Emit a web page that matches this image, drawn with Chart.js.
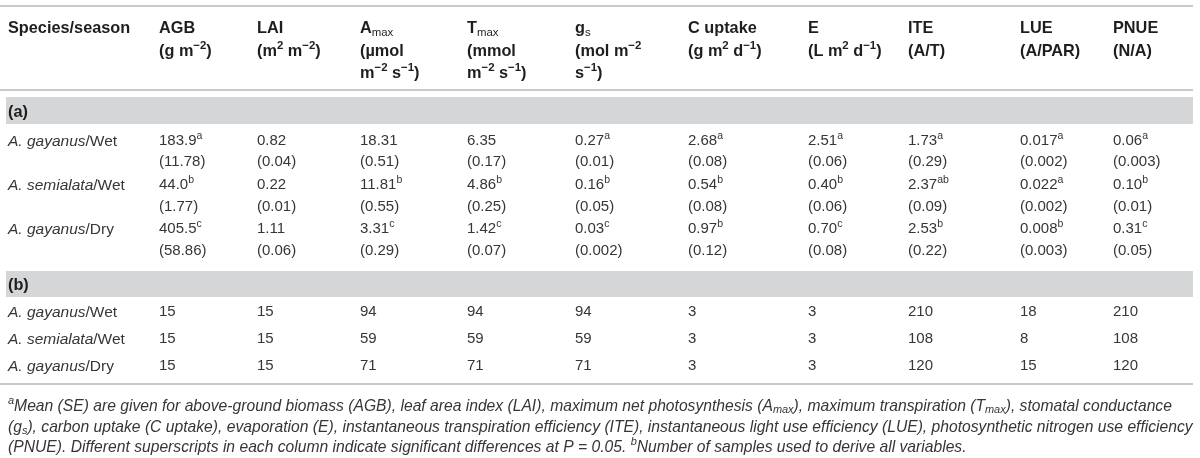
<!DOCTYPE html>
<html><head><meta charset="utf-8">
<script src="https://cdn.jsdelivr.net/npm/chart.js@4.4.1/dist/chart.umd.min.js"></script>
<style>html,body{margin:0;padding:0;background:#fff}#wrap{width:1200px;height:458px;position:relative}</style>
</head><body><div id="wrap"><canvas id="c"></canvas></div>
<script>
// ---------------- DATA ----------------
const rowLabels = ['~A. gayanus~/Wet', '~A. semialata~/Wet', '~A. gayanus~/Dry'];
const columnNames = ['AGB', 'LAI', 'Amax', 'Tmax', 'gs', 'C uptake', 'E', 'ITE', 'LUE', 'PNUE'];
const headerLines = [
  ['Species/season'],
  ['AGB', '(g m^{−2})'],
  ['LAI', '(m^{2} m^{−2})'],
  ['A_{max}', '(µmol', 'm^{−2} s^{−1})'],
  ['T_{max}', '(mmol', 'm^{−2} s^{−1})'],
  ['g_{s}', '(mol m^{−2}', 's^{−1})'],
  ['C uptake', '(g m^{2} d^{−1})'],
  ['E', '(L m^{2} d^{−1})'],
  ['ITE', '(A/T)'],
  ['LUE', '(A/PAR)'],
  ['PNUE', '(N/A)']
];
const sectionLabels = ['(a)', '(b)'];

// (a) mean, SE and significance letters per row
const gayWetMean = ['183.9', '0.82', '18.31', '6.35', '0.27', '2.68', '2.51', '1.73', '0.017', '0.06'];
const gayWetSE   = ['11.78', '0.04', '0.51', '0.17', '0.01', '0.08', '0.06', '0.29', '0.002', '0.003'];
const gayWetSig  = ['a', '', '', '', 'a', 'a', 'a', 'a', 'a', 'a'];
const semWetMean = ['44.0', '0.22', '11.81', '4.86', '0.16', '0.54', '0.40', '2.37', '0.022', '0.10'];
const semWetSE   = ['1.77', '0.01', '0.55', '0.25', '0.05', '0.08', '0.06', '0.09', '0.002', '0.01'];
const semWetSig  = ['b', '', 'b', 'b', 'b', 'b', 'b', 'ab', 'a', 'b'];
const gayDryMean = ['405.5', '1.11', '3.31', '1.42', '0.03', '0.97', '0.70', '2.53', '0.008', '0.31'];
const gayDrySE   = ['58.86', '0.06', '0.29', '0.07', '0.002', '0.12', '0.08', '0.22', '0.003', '0.05'];
const gayDrySig  = ['c', '', 'c', 'c', 'c', 'b', 'c', 'b', 'b', 'c'];

// (b) number of samples per row
const gayWetN = [15, 15, 94, 94, 94, 3, 3, 210, 18, 210];
const semWetN = [15, 15, 59, 59, 59, 3, 3, 108, 8, 108];
const gayDryN = [15, 15, 71, 71, 71, 3, 3, 120, 15, 120];

const footnoteLines = [
  '^{a}Mean (SE) are given for above-ground biomass (AGB), leaf area index (LAI), maximum net photosynthesis (A_{max}), maximum transpiration (T_{max}), stomatal conductance',
  '(g_{s}), carbon uptake (C uptake), evaporation (E), instantaneous transpiration efficiency (ITE), instantaneous light use efficiency (LUE), photosynthetic nitrogen use efficiency',
  '(PNUE). Different superscripts in each column indicate significant differences at P = 0.05. ^{b}Number of samples used to derive all variables.'
];

// ---------------- LAYOUT (layout units on the chart's scales) ----------------
const colX = [8, 159, 257, 360, 467, 575, 688, 808, 908, 1020, 1113];
const headerY = [27, 50, 72];
const ruleY = [6, 90, 384];
const ruleX = [0, 1193];
const bandY = [[97, 124], [271, 297]];
const bandX = [6, 1193];
const sectionY = [111, 284];
const meanY = [140, 184, 228];
const seY = [161, 206, 250];
const nY = [311, 338, 365];
const footY = [405, 426, 446];

const FAMILY = '"Liberation Sans", Arial, Helvetica, sans-serif';
const TEXT = '#363636';
const HEAD = '#1e1e1e';

// ---------------- datasets: one invisible point per cell ----------------
const meanRows = [gayWetMean, semWetMean, gayDryMean];
const seRows = [gayWetSE, semWetSE, gayDrySE];
const sigRows = [gayWetSig, semWetSig, gayDrySig];
const nRows = [gayWetN, semWetN, gayDryN];

const datasets = [];
datasets.push({ label: 'rows', kind: 'label', data: [
  ...meanY.map((y, r) => ({ x: colX[0], y, text: rowLabels[r] })),
  ...nY.map((y, r) => ({ x: colX[0], y, text: rowLabels[r] }))
]});
columnNames.forEach((name, c) => {
  const pts = [];
  meanRows.forEach((row, r) => {
    pts.push({ x: colX[c + 1], y: meanY[r], text: row[c] + (sigRows[r][c] ? '^{' + sigRows[r][c] + '}' : '') });
    pts.push({ x: colX[c + 1], y: seY[r], text: '(' + seRows[r][c] + ')' });
  });
  nRows.forEach((row, r) => {
    pts.push({ x: colX[c + 1], y: nY[r], text: String(row[c]) });
  });
  datasets.push({ label: name, kind: 'value', data: pts });
});
datasets.forEach(d => { d.pointRadius = 0; d.pointHoverRadius = 0; d.showLine = false; });

// ---------------- rich text helper ----------------
function parseRich(str) {
  const out = []; let it = false, mode = 'n', buf = '';
  const flush = () => { if (buf) out.push({ t: buf, it, mode }); buf = ''; };
  for (let i = 0; i < str.length; i++) {
    const ch = str[i];
    if (ch === '~') { flush(); it = !it; continue; }
    if ((ch === '^' || ch === '_') && str[i + 1] === '{') { flush(); mode = ch === '^' ? 'sup' : 'sub'; i++; continue; }
    if (ch === '}' && mode !== 'n') { flush(); mode = 'n'; continue; }
    buf += ch;
  }
  flush();
  return out;
}
function segFont(s, o) {
  const small = s.mode !== 'n';
  const sz = small ? o.size * 0.7 : o.size;
  const italic = o.italic ? !s.it : s.it;
  const weight = (s.mode === 'sub' && o.subNormal) ? 'normal' : o.weight;
  return { font: (italic ? 'italic ' : '') + weight + ' ' + sz + 'px ' + FAMILY, sz };
}
function drawRich(ctx, str, x, y, o) {
  const base = y + o.size * 0.36;
  let cx = x;
  parseRich(str).forEach(s => {
    const f = segFont(s, o);
    ctx.font = f.font;
    const by = s.mode === 'sup' ? base - o.size * 0.4 : s.mode === 'sub' ? base + o.size * 0.18 : base;
    ctx.fillStyle = o.color;
    ctx.textBaseline = 'alphabetic';
    ctx.textAlign = 'left';
    ctx.fillText(s.t, cx, by);
    cx += ctx.measureText(s.t).width;
  });
  return cx - x;
}
function richWidth(ctx, str, o) {
  let w = 0;
  parseRich(str).forEach(s => {
    ctx.font = segFont(s, o).font;
    w += ctx.measureText(s.t).width;
  });
  return w;
}

// ---------------- table plugin ----------------
const tablePlugin = {
  id: 'tablePlugin',
  beforeDatasetsDraw(chart) {
    const { ctx, scales: { x, y } } = chart;
    ctx.save();
    ctx.fillStyle = '#ffffff';
    ctx.fillRect(0, 0, chart.width, chart.height);
    ctx.fillStyle = '#d5d6d8';
    bandY.forEach(([a, b]) => {
      const x0 = x.getPixelForValue(bandX[0]), x1 = x.getPixelForValue(bandX[1]);
      const y0 = y.getPixelForValue(a), y1 = y.getPixelForValue(b);
      ctx.fillRect(x0, y0, x1 - x0, y1 - y0);
    });
    ctx.strokeStyle = '#c9c9c9';
    ctx.lineWidth = 2;
    ruleY.forEach(v => {
      const py = y.getPixelForValue(v);
      ctx.beginPath();
      ctx.moveTo(x.getPixelForValue(ruleX[0]), py);
      ctx.lineTo(x.getPixelForValue(ruleX[1]), py);
      ctx.stroke();
    });
    headerLines.forEach((lines, c) => {
      lines.forEach((t, k) => {
        drawRich(ctx, t, x.getPixelForValue(colX[c]), y.getPixelForValue(headerY[k]),
          { size: 16.3, weight: 'bold', color: HEAD, subNormal: true });
      });
    });
    sectionLabels.forEach((t, i) => {
      drawRich(ctx, t, x.getPixelForValue(colX[0]), y.getPixelForValue(sectionY[i]),
        { size: 16.3, weight: 'bold', color: HEAD });
    });
    // footnotes (italic), fitted to the table width
    const target = x.getPixelForValue(ruleX[1]) - x.getPixelForValue(colX[0]);
    const fo = { size: 14, weight: 'normal', italic: true };
    const wMax = Math.max(richWidth(ctx, footnoteLines[0], fo), richWidth(ctx, footnoteLines[1], fo));
    const fs = 14 * target / wMax;
    footnoteLines.forEach((t, i) => {
      drawRich(ctx, t, x.getPixelForValue(colX[0]), y.getPixelForValue(footY[i]),
        { size: fs, weight: 'normal', italic: true, color: TEXT });
    });
    ctx.restore();
  },
  afterDatasetsDraw(chart) {
    const { ctx } = chart;
    ctx.save();
    chart.data.datasets.forEach((ds, i) => {
      const meta = chart.getDatasetMeta(i);
      meta.data.forEach((el, j) => {
        const item = ds.data[j];
        const o = ds.kind === 'label'
          ? { size: 15.5, weight: 'normal', color: TEXT }
          : { size: 15, weight: 'normal', color: TEXT };
        drawRich(ctx, item.text, el.x, el.y, o);
      });
    });
    ctx.restore();
  }
};

new Chart(document.getElementById('c'), {
  type: 'scatter',
  data: { datasets },
  options: {
    responsive: true,
    maintainAspectRatio: false,
    animation: false,
    layout: { padding: 0 },
    scales: {
      x: { type: 'linear', min: 0, max: 1200, display: false },
      y: { type: 'linear', min: 0, max: 458, reverse: true, display: false }
    },
    plugins: { legend: { display: false }, tooltip: { enabled: false } },
    events: []
  },
  plugins: [tablePlugin]
});
</script>
</body></html>
